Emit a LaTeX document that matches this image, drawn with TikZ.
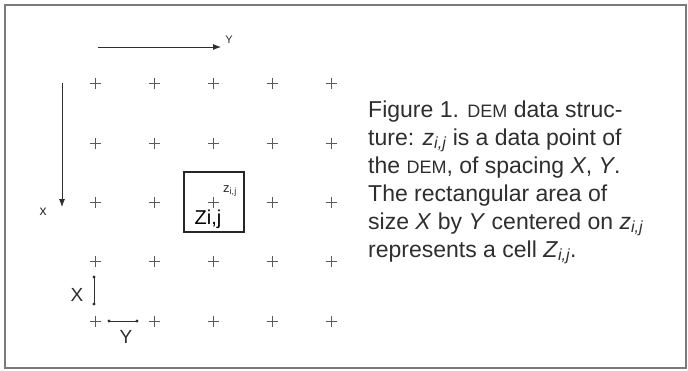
\documentclass[tikz,border=0pt]{standalone}
\usepackage{fontspec}
\setmainfont{Liberation Sans}
\usetikzlibrary{arrows.meta}
\definecolor{framegray}{HTML}{7A7A7A}
\definecolor{crossgray}{HTML}{5A5A5A}
\definecolor{inkgray}{HTML}{2E2E2E}
\newcommand\mysub[1]{\textsubscript{\itshape #1}}
\newcommand\mysc[1]{{\fontsize{18}{18}\selectfont #1}}
\begin{document}
\begin{tikzpicture}[x=1pt,y=-1pt,
  frameline/.style={draw=framegray,line width=1.6pt},
  crossline/.style={draw=crossgray,line width=0.6pt},
  axisarrow/.style={draw=inkgray,line width=0.8pt,-{Latex[length=8pt,width=6pt]}},
  measure/.style={draw=inkgray,line width=0.8pt},
  dotmark/.style={fill=inkgray},
  cellbox/.style={draw=black!85,line width=1.1pt},
  captxt/.style={anchor=base west,inner sep=0pt,text=inkgray,font=\fontsize{23}{28}\selectfont},
  lbl/.style={inner sep=0pt,text=inkgray}]
\useasboundingbox (0,0) rectangle (688,370);
\draw[frameline] (5,5) rectangle (686,368);
% grid of crosses
\foreach \x in {95,154,213,272,331}{
  \foreach \y in {83,143,202,261,321}{
    \draw[crossline] (\x-5.5,\y) -- (\x+5.5,\y) (\x,\y-5.5) -- (\x,\y+5.5);
  }
}
% axis arrows
\coordinate (ya) at (98,47);
\coordinate (yb) at (221,47);
\draw[axisarrow] (ya) -- (yb);
\node[lbl] (ylab) at (229,40) {\fontsize{11}{11}\selectfont Y};
\coordinate (xa) at (62,83);
\coordinate (xb) at (62,207);
\draw[axisarrow] (xa) -- (xb);
\node[lbl] (xlab) at (43,212) {\fontsize{14}{14}\selectfont x};
% cell box
\coordinate (c1) at (184,172);
\coordinate (c2) at (244,232);
\draw[cellbox] (c1) rectangle (c2);
\node[lbl] (zsmall) at (230,191) {\fontsize{13}{13}\selectfont z\textsubscript{i,j}};
\node[lbl,text=black] (zbig) at (208,219) {\fontsize{20}{20}\selectfont Zi,j};
% spacing measures
\coordinate (m1) at (94,277);
\coordinate (m2) at (94,304);
\draw[measure] (m1) -- (m2);
\fill[dotmark] (m1) circle (1.6) (m2) circle (1.6);
\node[lbl] (Xlab) at (77,295) {\fontsize{19}{19}\selectfont X};
\coordinate (n1) at (109,321);
\coordinate (n2) at (137,321);
\draw[measure] (n1) -- (n2);
\fill[dotmark] (n1) circle (1.6) (n2) circle (1.6);
\node[lbl] (Ylab) at (126,337) {\fontsize{19}{19}\selectfont Y};
% caption
\node[captxt] (l1) at (368,117) {Figure 1. \mysc{DEM} data struc-};
\node[captxt] (l2) at (368,145) {ture: \textit{z}\mysub{i,j} is a data point of};
\node[captxt] (l3) at (368,173) {the \mysc{DEM}, of spacing \textit{X}, \textit{Y}.};
\node[captxt] (l4) at (368,201) {The rectangular area of};
\node[captxt] (l5) at (368,229) {size \textit{X} by \textit{Y} centered on \textit{z}\mysub{i,j}};
\node[captxt] (l6) at (368,257) {represents a cell \textit{Z}\mysub{i,j}.};
\end{tikzpicture}
\end{document}
